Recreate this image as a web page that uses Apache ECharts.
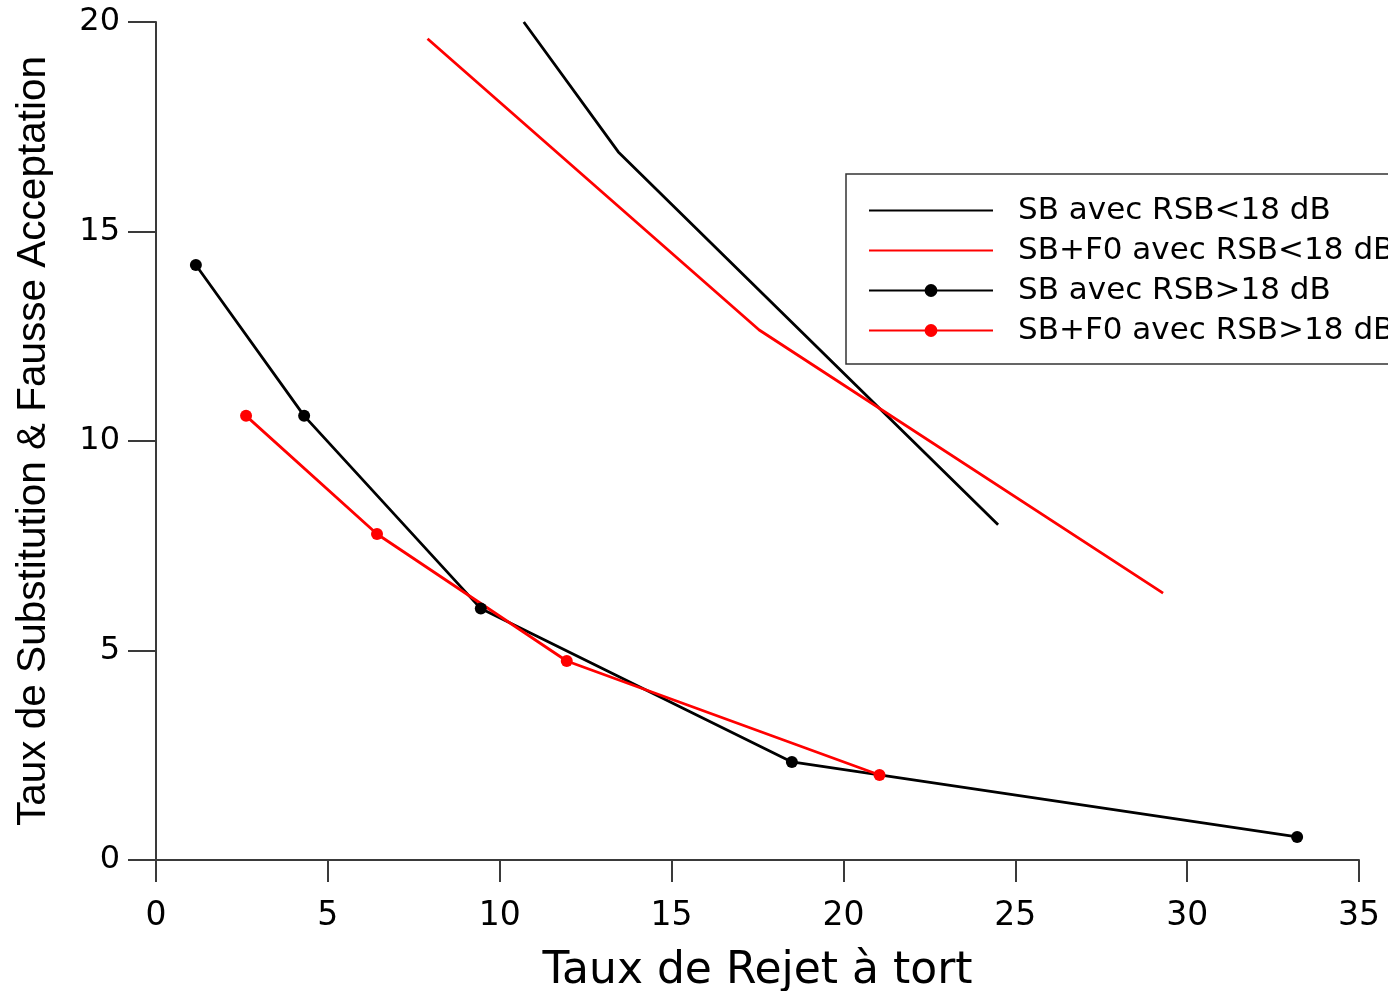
<!DOCTYPE html>
<html>
<head>
<meta charset="utf-8">
<script src="https://cdn.jsdelivr.net/npm/echarts@6/dist/echarts.min.js"></script>
<style>
  html, body { margin: 0; padding: 0; background: #ffffff; }
  #chart { width: 1388px; height: 991px; }
</style>
</head>
<body>
<div id="chart"></div>
<script>
// Series names
const seriesNames = [
  'SB avec RSB<18 dB',
  'SB+F0 avec RSB<18 dB',
  'SB avec RSB>18 dB',
  'SB+F0 avec RSB>18 dB'
];

// [Taux de Rejet à tort, Taux de Substitution & Fausse Acceptation]
const sbLow   = [[10.7, 20.0], [13.45, 16.9], [24.5, 8.0]];
const sbf0Low = [[7.9, 19.6], [17.55, 12.65], [29.3, 6.37]];
const sbHigh  = [[1.16, 14.2], [4.31, 10.6], [9.45, 6.0], [18.5, 2.34], [33.2, 0.55]];
const sbf0High = [[2.62, 10.6], [6.43, 7.78], [11.95, 4.75], [21.05, 2.03]];

const xTicks = { min: 0, max: 35, interval: 5 };
const yTicks = { min: 0, max: 20, interval: 5 };

const axisColor = '#3a3a3a';
const wideFont = '"DejaVu Sans", "Liberation Sans", sans-serif';
const plainFont = '"Liberation Sans", Arial, sans-serif';

// legend entries: lines without markers hide the centre symbol
const legendData = seriesNames.map((name, i) => (
  i < 2 ? { name: name, itemStyle: { opacity: 0 } } : { name: name }
));

const chart = echarts.init(document.getElementById('chart'), null, { renderer: 'canvas' });

chart.setOption({
  backgroundColor: '#ffffff',
  animation: false,
  grid: {
    left: 156, right: 29, top: 22, bottom: 131,
    containLabel: false,
    outerBoundsMode: 'none'
  },
  legend: {
    orient: 'vertical',
    left: 846,
    top: 174,
    padding: [21, 60, 18, 22],
    itemWidth: 124,
    itemHeight: 16,
    itemGap: 9,
    borderColor: '#333333',
    borderWidth: 1.5,
    backgroundColor: '#ffffff',
    data: legendData,
    lineStyle: { width: 2 },
    textStyle: {
      fontFamily: wideFont,
      fontSize: 31,
      color: '#000000',
      lineHeight: 30,
      padding: [0, 0, 0, 20]
    }
  },
  xAxis: {
    type: 'value',
    min: xTicks.min,
    max: xTicks.max,
    interval: xTicks.interval,
    name: 'Taux de Rejet à tort',
    nameLocation: 'middle',
    nameGap: 90,
    nameTextStyle: { fontFamily: wideFont, fontSize: 44, color: '#000000' },
    axisLine: { show: true, lineStyle: { color: axisColor, width: 2 } },
    axisTick: { show: true, inside: false, length: 22, lineStyle: { color: axisColor, width: 2 } },
    axisLabel: { margin: 40, fontFamily: wideFont, fontSize: 33, color: '#000000' },
    splitLine: { show: false }
  },
  yAxis: {
    type: 'value',
    min: yTicks.min,
    max: yTicks.max,
    interval: yTicks.interval,
    name: 'Taux de Substitution & Fausse Acceptation',
    nameLocation: 'middle',
    nameGap: 102,
    nameTextStyle: { fontFamily: plainFont, fontSize: 40.5, color: '#000000' },
    axisLine: { show: true, lineStyle: { color: axisColor, width: 2 } },
    axisTick: { show: true, inside: false, length: 28, lineStyle: { color: axisColor, width: 2 } },
    axisLabel: { margin: 36, fontFamily: wideFont, fontSize: 32, color: '#000000' },
    splitLine: { show: false }
  },
  series: [
    {
      name: seriesNames[0],
      type: 'line',
      data: sbLow,
      symbol: 'none',
      lineStyle: { color: '#000000', width: 2.8 },
      itemStyle: { color: '#000000' }
    },
    {
      name: seriesNames[1],
      type: 'line',
      data: sbf0Low,
      symbol: 'none',
      lineStyle: { color: '#ff0000', width: 2.8 },
      itemStyle: { color: '#ff0000' }
    },
    {
      name: seriesNames[2],
      type: 'line',
      data: sbHigh,
      symbol: 'circle',
      symbolSize: 12,
      lineStyle: { color: '#000000', width: 2.8 },
      itemStyle: { color: '#000000' }
    },
    {
      name: seriesNames[3],
      type: 'line',
      data: sbf0High,
      symbol: 'circle',
      symbolSize: 12,
      lineStyle: { color: '#ff0000', width: 2.8 },
      itemStyle: { color: '#ff0000' }
    }
  ]
});
</script>
</body>
</html>
